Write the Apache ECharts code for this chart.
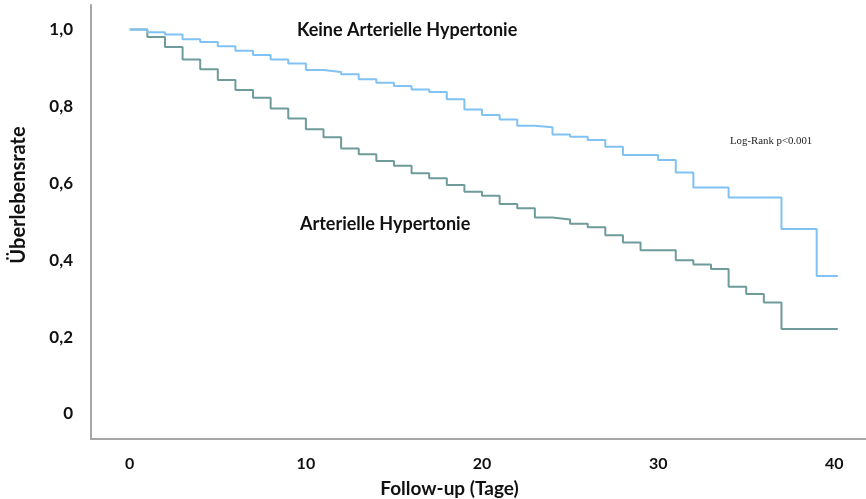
<!DOCTYPE html>
<html>
<head>
<meta charset="utf-8">
<script src="https://cdn.jsdelivr.net/npm/echarts@6/dist/echarts.min.js"></script>
<style>
  html, body { margin: 0; padding: 0; background: #fff; }
  #chart { width: 866px; height: 499px; }
</style>
</head>
<body>
<div id="chart"></div>
<script>
// Kaplan-Meier Schritte (Tag, Überlebensrate)
var keineTage = [0, 1, 2, 3, 4, 5, 6, 7, 8, 9, 10, 11, 12, 13, 14, 15, 16, 17, 18, 19, 20,
                 21, 22, 23, 24, 25, 26, 27, 28, 30, 31, 32, 34, 37, 39, 40.2];
var keineRate = [1.0, 0.993, 0.987, 0.975, 0.968, 0.957, 0.945, 0.934, 0.922, 0.912, 0.895,
                 0.890, 0.884, 0.871, 0.862, 0.853, 0.844, 0.838, 0.819, 0.792, 0.778,
                 0.766, 0.750, 0.746, 0.727, 0.721, 0.713, 0.695, 0.674, 0.661, 0.628,
                 0.589, 0.563, 0.481, 0.359, 0.359];

var hyperTage = [0, 1, 2, 3, 4, 5, 6, 7, 8, 9, 10, 11, 12, 13, 14, 15, 16, 17, 18, 19, 20,
                 21, 22, 23, 24, 25, 26, 27, 28, 29, 31, 32, 33, 34, 35, 36, 37, 40.2];
var hyperRate = [1.0, 0.981, 0.955, 0.922, 0.897, 0.869, 0.843, 0.823, 0.795, 0.769, 0.741,
                 0.720, 0.691, 0.676, 0.658, 0.646, 0.626, 0.613, 0.596, 0.578, 0.568,
                 0.546, 0.535, 0.511, 0.506, 0.495, 0.486, 0.465, 0.446, 0.426, 0.400,
                 0.389, 0.377, 0.331, 0.312, 0.290, 0.221, 0.221];

var xTicks = [0, 10, 20, 30, 40];
var yTicks = [0, 0.2, 0.4, 0.6, 0.8, 1.0];

function paare(xs, ys){
    var out = [];
    for (var i = 0; i < xs.length; i++) out.push([xs[i], ys[i]]);
    return out;
}

var fontFam = 'Lato, "Noto Sans", sans-serif';

var option = {
    backgroundColor: '#fff',
    animation: false,
    grid: {   //位置
        left: 91,
        right: 0,
        top: 5,
        bottom: 60,
        containLabel: false,
        outerBoundsMode: 'none'
    },
    xAxis: {
        type: 'value',
        min: -2.2,
        max: 41.8,
        name: 'Follow-up (Tage)',
        nameLocation: 'middle',
        nameGap: 40,
        nameTextStyle: {
            color: '#111',
            fontFamily: fontFam,
            fontWeight: 'bold',
            fontSize: 19,
            padding: [0, 58, 0, 0]
        },
        axisLine: { onZero: false, lineStyle: { color: '#a6a6a6', width: 2 } },
        axisTick: { show: false },
        splitLine: { show: false },
        axisLabel: {
            customValues: xTicks,
            margin: 17,
            color: '#111',
            fontFamily: fontFam,
            fontWeight: 'bold',
            fontSize: 16
        }
    },
    yAxis: {
        type: 'value',
        min: -0.065,
        max: 1.064,
        name: 'Überlebensrate',
        nameLocation: 'middle',
        nameGap: 62,
        nameTextStyle: {
            color: '#111',
            fontFamily: fontFam,
            fontWeight: 'bold',
            fontSize: 20,
            padding: [0, 0, 0, 54]
        },
        axisLine: { show: true, onZero: false, lineStyle: { color: '#a6a6a6', width: 2 } },
        axisTick: { show: false },
        splitLine: { show: false },
        axisLabel: {
            customValues: yTicks,
            margin: 18,
            color: '#111',
            fontFamily: fontFam,
            fontWeight: 'bold',
            fontSize: 17,
            formatter: function (v) {
                if (v === 0) return '0';
                return v.toFixed(1).replace('.', ',');
            }
        }
    },
    series: [{
        name: 'Keine Arterielle Hypertonie',
        type: 'line',
        step: 'end',
        showSymbol: false,
        data: paare(keineTage, keineRate),
        lineStyle: { color: '#80c2f4', width: 2 },
        z: 3
    }, {
        name: 'Arterielle Hypertonie',
        type: 'line',
        step: 'end',
        showSymbol: false,
        data: paare(hyperTage, hyperRate),
        lineStyle: { color: '#6d9c9a', width: 2 },
        z: 2
    }],
    graphic: [{
        type: 'text', left: 297, top: 21,
        style: { text: 'Keine Arterielle Hypertonie', fill: '#111', font: 'bold 18px ' + fontFam }
    }, {
        type: 'text', left: 300, top: 215,
        style: { text: 'Arterielle Hypertonie', fill: '#111', font: 'bold 18px ' + fontFam }
    }, {
        type: 'text', left: 730, top: 136,
        style: { text: 'Log-Rank p<0.001', fill: '#222', font: '10.8px "Liberation Serif", serif' }
    }]
};

var myChart = echarts.init(document.getElementById('chart'));
myChart.setOption(option);
window.onresize = function(){
    myChart.resize();
};
</script>
</body>
</html>
